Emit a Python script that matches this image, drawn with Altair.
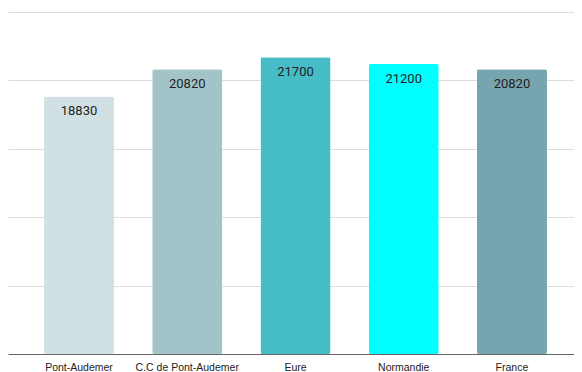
import altair as alt
import pandas as pd

categories = ["Pont-Audemer", "C.C de Pont-Audemer", "Eure", "Normandie", "France"]
values = [18830, 20820, 21700, 21200, 20820]
colors = ["#d0e0e3", "#a2c4c9", "#46bdc6", "#00ffff", "#76a5af"]

df = pd.DataFrame({"cat": categories, "val": values})

x = alt.X("cat:N", sort=categories, title=None,
          scale=alt.Scale(paddingInner=0.353, paddingOuter=0.291, align=0.571),
          axis=alt.Axis(labelAngle=0, labelFont="Liberation Sans", labelFontSize=10.5,
                        labelColor="#222222", labelPadding=8, ticks=False,
                        domainColor="#666666", domainWidth=1.2, grid=False))
y = alt.Y("val:Q", title=None,
          scale=alt.Scale(domain=[0, 25000], nice=False),
          axis=alt.Axis(values=[5000, 10000, 15000, 20000, 25000], labels=False,
                        ticks=False, domain=False, gridColor="#dddddd", gridWidth=1))

bars = alt.Chart(df).mark_bar(cornerRadius=2).encode(
    x=x, y=y,
    color=alt.Color("cat:N", sort=categories,
                    scale=alt.Scale(domain=categories, range=colors), legend=None),
)

text = alt.Chart(df).mark_text(baseline="top", dy=9, font="Roboto", fontSize=13,
                               color="#222222").encode(
    x=alt.X("cat:N", sort=categories),
    y=alt.Y("val:Q"),
    text=alt.Text("val:Q", format="d"),
)

chart = alt.layer(bars, text).properties(
    width=566, height=342,
    padding={"top": 4, "left": 0, "right": 0, "bottom": 2},
).configure_view(stroke=None)

chart.save("out.html", embed_options={"renderer": "svg", "actions": False})
